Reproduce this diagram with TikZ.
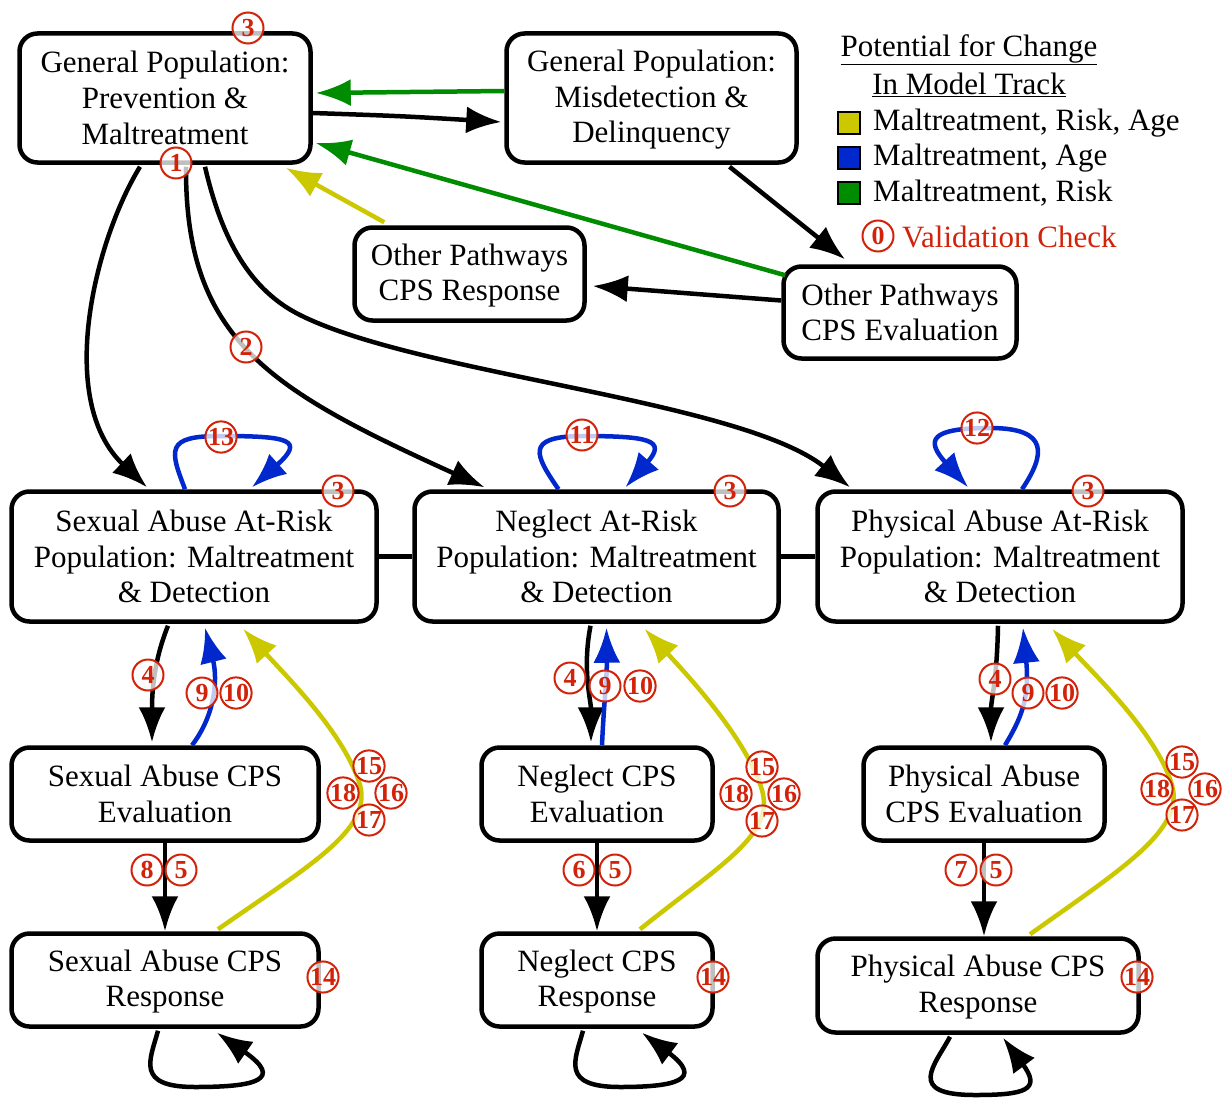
\documentclass[tikz,border=0pt]{standalone}
\usepackage{fontspec}
\setmainfont{Liberation Serif}
\usetikzlibrary{arrows.meta,calc}
\definecolor{cyel}{RGB}{204,200,0}
\definecolor{cblue}{RGB}{0,40,205}
\definecolor{cgreen}{RGB}{0,140,0}
\definecolor{cred}{RGB}{210,35,10}
% fixed-height strut so every box centres its lines the same way
\newcommand{\bxs}{\rule[-4pt]{0pt}{29pt}}
\begin{document}
\begin{tikzpicture}[x=1pt,y=-1pt,
  box/.style={draw, line width=4.5pt, rounded corners=18pt, fill=white, align=center,
    inner sep=0pt, font=\fontsize{31}{35.5}\selectfont},
  arr/.style={line width=4.5pt, -{Latex[length=35pt,width=27pt]}},
  link/.style={line width=4.5pt},
  chk/.style={circle, draw=cred, line width=2pt, fill=white, fill opacity=0.75,
    text opacity=1, text=cred, minimum size=31pt, inner sep=0pt,
    font=\bfseries\fontsize{26}{26}\selectfont},
  key/.style={draw, line width=2pt, minimum size=22pt, inner sep=0pt},
  keytext/.style={anchor=west, inner sep=0pt, font=\fontsize{31}{35}\selectfont}
]
\fill[white] (0,0) rectangle (1225,1097);
\useasboundingbox (0,0) rectangle (1225,1097);

% ---- boxes ----
\node[box, minimum width=291pt, minimum height=129pt] (gp1) at (165,98) {\bxs General Population:\\Prevention \&\\Maltreatment\bxs};
\node[box, minimum width=290pt, minimum height=129pt] (gp2) at (651.5,98) {\bxs General Population:\\Misdetection \&\\Delinquency\bxs};
\node[box, minimum width=230pt, minimum height=93pt] (opr) at (469.5,274) {\bxs Other Pathways\\CPS Response\bxs};
\node[box, minimum width=233pt, minimum height=92pt] (ope) at (900,312.5) {\bxs Other Pathways\\CPS Evaluation\bxs};
\node[box, minimum width=365pt, minimum height=130pt] (sar) at (194,556.5) {\bxs Sexual Abuse At-Risk\\Population: Maltreatment\\\& Detection\bxs};
\node[box, minimum width=364pt, minimum height=130pt] (nar) at (596.5,556.5) {\bxs Neglect At-Risk\\Population: Maltreatment\\\& Detection\bxs};
\node[box, minimum width=365pt, minimum height=130pt] (par) at (1000,556.5) {\bxs Physical Abuse At-Risk\\Population: Maltreatment\\\& Detection\bxs};
\node[box, minimum width=307pt, minimum height=93pt] (sae) at (165,794) {\bxs Sexual Abuse CPS\\Evaluation\bxs};
\node[box, minimum width=231pt, minimum height=93pt] (ne) at (597,794) {\bxs Neglect CPS\\Evaluation\bxs};
\node[box, minimum width=241pt, minimum height=93pt] (pae) at (984,794) {\bxs Physical Abuse\\CPS Evaluation\bxs};
\node[box, minimum width=307pt, minimum height=93pt] (sarp) at (165,980) {\bxs Sexual Abuse CPS\\Response\bxs};
\node[box, minimum width=231pt, minimum height=93pt] (nrp) at (597,980) {\bxs Neglect CPS\\Response\bxs};
\node[box, minimum width=321pt, minimum height=94pt] (parp) at (978,985.5) {\bxs Physical Abuse CPS\\Response\bxs};

% ---- general population links ----
\draw[arr] ($(gp1.east)+(0,15)$) .. controls (400,116) .. ($(gp2.west)+(-3,24)$);
\draw[arr, cgreen] ($(gp2.west)+(0,-7)$) -- ($(gp1.east)+(3,-5)$);
\draw[arr, cgreen] ($(ope.north west)+(4,11)$) -- ($(gp1.east)+(3,45)$);
\draw[arr, cyel] ($(opr.north west)+(32,-3)$) -- ($(gp1.south east)+(-27,3)$);
\draw[arr] ($(gp2.south)+(78,2)$) -- ($(ope.north)+(-55,-5)$);
\draw[arr] ($(ope.west)+(0,-12)$) -- ($(opr.east)+(6,12)$);

\draw[arr] ($(gp1.south)+(-25,2)$) .. controls (95,240) and (55,400) .. ($(sar.north)+(-47,-2)$);
\draw[arr] ($(gp1.south)+(21,2)$) .. controls (185,340) and (270,390) .. ($(nar.north)+(-112,-2)$);
\draw[arr] ($(gp1.south)+(40,2)$) .. controls (222,240) and (250,290) .. (300,315)
  .. controls (420,375) and (740,400) .. ($(par.north)+(-150,-2)$);

% ---- at-risk row ----
\draw[link] (sar.east) -- (nar.west);
\draw[link] (nar.east) -- (par.west);

\draw[arr, cblue] ($(sar.north)+(-9,0)$) .. controls (170,450) and (165,436) .. (220,436)
  .. controls (290,436) and (305,440) .. ($(sar.north)+(58,-2)$);
\draw[arr, cblue] ($(nar.north)+(-38,0)$) .. controls (535,455) and (525,437) .. (580,436)
  .. controls (650,436) and (667,440) .. ($(nar.north)+(29,-2)$);
\draw[arr, cblue] ($(par.north)+(22,0)$) .. controls (1045,455) and (1050,428) .. (990,428)
  .. controls (930,428) and (925,440) .. ($(par.north)+(-32,-2)$);

% ---- sexual abuse column ----
\draw[arr] ($(sar.south)+(-26,2)$) .. controls (152,665) and (152,700) .. ($(sae.north)+(-13,-3)$);
\draw[arr, cblue] ($(sae.north)+(27,0)$) .. controls (215,715) and (218,680) .. ($(sar.south)+(11,4)$);
\draw[arr, cyel] ($(sarp.north)+(53,-2)$) .. controls (310,865) and (372,830) .. (360,785)
  .. controls (345,735) and (290,680) .. ($(sar.south)+(49,5)$);
\draw[arr] (sae) -- (sarp);
\draw[arr] ($(sarp.south)+(-7,2)$) .. controls (150,1060) and (135,1087) .. (195,1087)
  .. controls (255,1087) and (285,1080) .. ($(sarp.south)+(52,4)$);

% ---- neglect column ----
\draw[arr] ($(nar.south)+(-6,2)$) .. controls (582,670) and (591,700) .. ($(ne.north)+(-6,-3)$);
\draw[arr, cblue] ($(ne.north)+(5,0)$) .. controls (604,700) and (607,680) .. ($(nar.south)+(10,4)$);
\draw[arr, cyel] ($(nrp.north)+(43,-2)$) .. controls (720,865) and (775,835) .. (762,790)
  .. controls (747,740) and (692,680) .. ($(nar.south)+(48,5)$);
\draw[arr] (ne) -- (nrp);
\draw[arr] ($(nrp.south)+(-14,2)$) .. controls (575,1060) and (560,1087) .. (620,1087)
  .. controls (675,1087) and (705,1080) .. ($(nrp.south)+(45,4)$);

% ---- physical abuse column ----
\draw[arr] ($(par.south)+(-2,2)$) .. controls (997,680) and (991,700) .. ($(pae.north)+(7,-3)$);
\draw[arr, cblue] ($(pae.north)+(21,0)$) .. controls (1020,720) and (1030,700) .. ($(par.south)+(23,4)$);
\draw[arr, cyel] ($(parp.north)+(52,-2)$) .. controls (1120,870) and (1185,830) .. (1172,785)
  .. controls (1157,735) and (1100,680) .. ($(par.south)+(52,5)$);
\draw[arr] (pae.south) -- (pae.south |- parp.north);
\draw[arr] ($(parp.south)+(-28,2)$) .. controls (935,1065) and (905,1095) .. (975,1095)
  .. controls (1025,1095) and (1042,1090) .. ($(parp.south)+(25,3)$);

% ---- validation checks ----
\node[chk] (v3a) at (248,28) {3};
\node[chk] (v1) at (176,163) {1};
\node[chk] (v2) at (246,347) {2};
\node[chk] (v13) at (221,437) {13};
\node[chk] (v11) at (582,435) {11};
\node[chk] (v12) at (977,428) {12};
\node[chk] (v3b) at (338,491) {3};
\node[chk] (v3c) at (730,491) {3};
\node[chk] (v3d) at (1088,491) {3};

\node[chk] (v4a) at (148,675) {4};
\node[chk] (v9a) at (202,693) {9};
\node[chk] (v10a) at (236,693) {10};
\node[chk] (v4b) at (570,678) {4};
\node[chk] (v9b) at (605,686) {9};
\node[chk] (v10b) at (640,686) {10};
\node[chk] (v4c) at (995,679) {4};
\node[chk] (v9c) at (1028,693) {9};
\node[chk] (v10c) at (1062,693) {10};

\node[chk] (v15a) at (369,766) {15};
\node[chk] (v18a) at (343,793) {18};
\node[chk] (v16a) at (391,793) {16};
\node[chk] (v17a) at (369,820) {17};
\node[chk] (v15b) at (762,767) {15};
\node[chk] (v18b) at (736,794) {18};
\node[chk] (v16b) at (784,794) {16};
\node[chk] (v17b) at (762,821) {17};
\node[chk] (v15c) at (1182,762) {15};
\node[chk] (v18c) at (1157,789) {18};
\node[chk] (v16c) at (1205,789) {16};
\node[chk] (v17c) at (1182,815) {17};

\node[chk] (v8) at (147,870) {8};
\node[chk] (v5a) at (181,870) {5};
\node[chk] (v6) at (579,870) {6};
\node[chk] (v5b) at (615,870) {5};
\node[chk] (v7) at (961,870) {7};
\node[chk] (v5c) at (996,870) {5};

\node[chk] (v14a) at (323,977) {14};
\node[chk] (v14b) at (713,977) {14};
\node[chk] (v14c) at (1137,977) {14};

% ---- legend ----
\node[keytext, anchor=center] (lt1) at (969,50) {\underline{Potential for Change}};
\node[keytext, anchor=center] (lt2) at (969,85) {\underline{In Model Track}};
\node[key, fill=cyel] (k1) at (849,123) {};
\node[keytext] (k1t) at (873,123) {Maltreatment, Risk, Age};
\node[key, fill=cblue] (k2) at (849,158) {};
\node[keytext] (k2t) at (873,158) {Maltreatment, Age};
\node[key, fill=cgreen] (k3) at (849,193) {};
\node[keytext] (k3t) at (873,193) {Maltreatment, Risk};
\node[chk] (k0) at (878,236) {0};
\node[keytext, text=cred] (k0t) at (902,237) {Validation Check};
\end{tikzpicture}
\end{document}
